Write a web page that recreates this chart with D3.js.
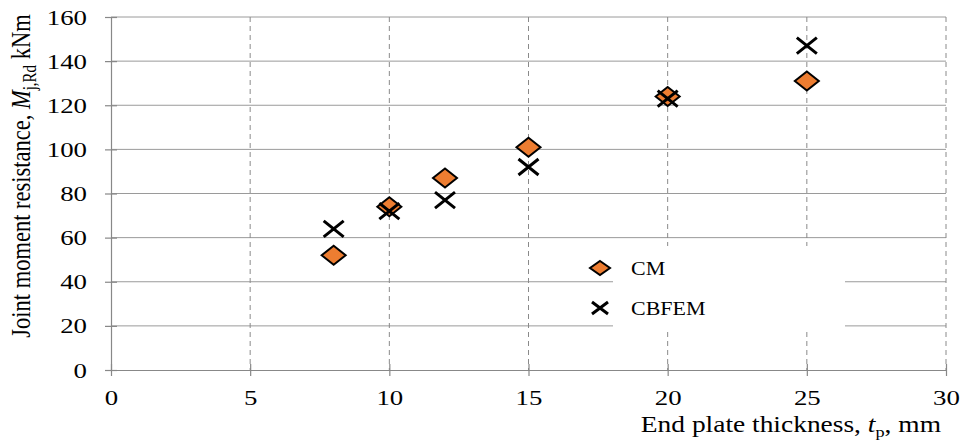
<!DOCTYPE html>
<html lang="en">
<head>
    <meta charset="UTF-8">
    <title>Joint moment resistance vs end plate thickness</title>
    <script src="https://d3js.org/d3.v7.min.js"></script>
    <style>
        body { margin: 0; background: #fff; }
        text { font-family: "Liberation Serif", "Times New Roman", serif; fill: #000; }
    </style>
</head>
<body>
    <div id="chart"></div>
    <script>
        // data
        const thickness = [8, 10, 12, 15, 20, 25];
        const cmValues = [52, 74, 87, 101, 124, 131];
        const cbfemValues = [64, 72, 77, 92, 123, 147];
        const xTicks = [0, 5, 10, 15, 20, 25, 30];
        const yTicks = [0, 20, 40, 60, 80, 100, 120, 140, 160];

        const W = 963, H = 441;
        const SX = 1.22; // the original picture is stretched sideways
        const svg = d3.select("#chart").append("svg")
            .attr("width", W).attr("height", H);

        const x = d3.scaleLinear().domain([0, 30]).range([111, 946]);
        const y = d3.scaleLinear().domain([0, 160]).range([370, 17]);

        // horizontal grid (solid)
        svg.append("g").selectAll("line")
            .data(yTicks.filter(d => d > 0))
            .enter().append("line")
            .attr("x1", x(0)).attr("x2", x(30))
            .attr("y1", d => y(d)).attr("y2", d => y(d))
            .attr("stroke", "#9a9a9a").attr("stroke-width", 1);

        // vertical grid (dashed)
        svg.append("g").selectAll("line")
            .data(xTicks.filter(d => d > 0))
            .enter().append("line")
            .attr("x1", d => x(d)).attr("x2", d => x(d))
            .attr("y1", y(160)).attr("y2", y(0))
            .attr("stroke", "#8a8a8a").attr("stroke-width", 1)
            .attr("stroke-dasharray", "5,4");

        // axes
        const xAxis = svg.append("g")
            .attr("transform", "translate(0," + y(0) + ")")
            .call(d3.axisBottom(x).tickValues(xTicks).tickSizeInner(6).tickSizeOuter(0).tickPadding(13));
        xAxis.selectAll(".tick line").attr("y1", -6).attr("y2", 6);

        const yAxis = svg.append("g")
            .attr("transform", "translate(" + x(0) + ",0)")
            .call(d3.axisLeft(y).tickValues(yTicks).tickSizeInner(6).tickSizeOuter(0).tickPadding(18));
        yAxis.selectAll(".tick line").attr("x1", -6).attr("x2", 6);

        svg.selectAll(".domain, .tick line").attr("stroke", "#888").attr("stroke-width", 1.2);
        svg.selectAll(".tick text")
            .style("font-size", "22px")
            .style("font-family", "'Liberation Serif', serif")
            .attr("fill", "#000")
            .attr("x", function () { return (+d3.select(this).attr("x") || 0) / SX; })
            .attr("transform", "scale(" + SX + ",1)");

        // marker shapes
        const diamond = "M0,-9.5L12,0L0,9.5L-12,0Z";
        const cross = "M-10,-8L10,8M-10,8L10,-8";

        // legend box (white, hides the grid behind it)
        const legend = svg.append("g");
        legend.append("rect")
            .attr("x", 613).attr("y", 246).attr("width", 232).attr("height", 84)
            .attr("fill", "#fff");

        // data points
        svg.append("g").selectAll("path")
            .data(thickness.map((t, i) => [t, cmValues[i]]))
            .enter().append("path")
            .attr("d", diamond)
            .attr("transform", d => "translate(" + x(d[0]) + "," + y(d[1]) + ")")
            .attr("fill", "#ED7D31").attr("stroke", "#000").attr("stroke-width", 2);

        svg.append("g").selectAll("path")
            .data(thickness.map((t, i) => [t, cbfemValues[i]]))
            .enter().append("path")
            .attr("d", cross)
            .attr("transform", d => "translate(" + x(d[0]) + "," + y(d[1]) + ")")
            .attr("fill", "none").attr("stroke", "#000").attr("stroke-width", 3);

        // legend entries
        legend.append("path").attr("d", "M0,-7L10,0L0,7L-10,0Z")
            .attr("transform", "translate(600,268)")
            .attr("fill", "#ED7D31").attr("stroke", "#000").attr("stroke-width", 2);
        legend.append("text")
            .attr("transform", "translate(631,275) scale(" + SX + ",1)")
            .style("font-size", "18px").text("CM");
        legend.append("path").attr("d", "M-8,-6L8,6M-8,6L8,-6")
            .attr("transform", "translate(600,308)")
            .attr("fill", "none").attr("stroke", "#000").attr("stroke-width", 3);
        legend.append("text")
            .attr("transform", "translate(631,315) scale(" + SX + ",1)")
            .style("font-size", "18px").text("CBFEM");

        // axis titles
        const xt = svg.append("text")
            .attr("transform", "translate(941,432) scale(" + SX + ",1)")
            .attr("text-anchor", "end")
            .style("font-size", "22.5px");
        xt.append("tspan").text("End plate thickness, ");
        xt.append("tspan").style("font-style", "italic").text("t");
        xt.append("tspan").attr("dy", 5).style("font-size", "15px").text("p");
        xt.append("tspan").attr("dy", -5).text(", mm");

        const yt = svg.append("text")
            .attr("transform", "translate(30,176) scale(" + SX + ",1) rotate(-90)")
            .attr("text-anchor", "middle")
            .style("font-size", "22.5px");
        yt.append("tspan").text("Joint moment resistance, ");
        yt.append("tspan").style("font-style", "italic").text("M");
        yt.append("tspan").attr("dy", 5).style("font-size", "15px").text("j,Rd");
        yt.append("tspan").attr("dy", -5).text(" kNm");
    </script>
</body>
</html>
